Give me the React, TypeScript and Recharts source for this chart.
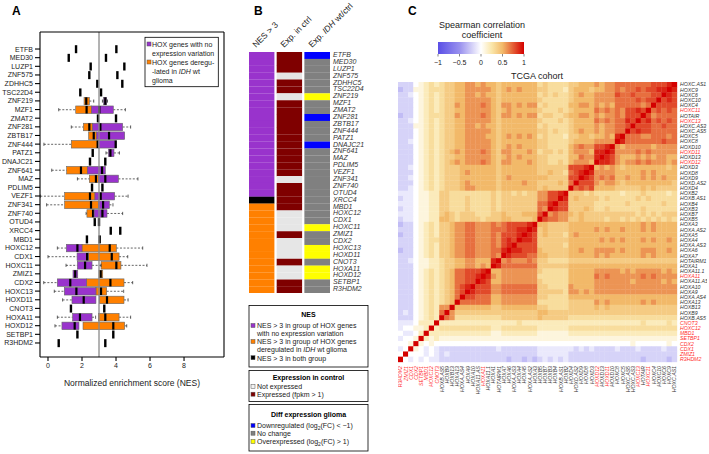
import {
  Bar,
  BarChart,
  Cell,
  ComposedChart,
  ReferenceLine,
  Scatter,
  ScatterChart,
  XAxis,
  YAxis,
} from 'recharts';

const FONT = '"Liberation Sans", Arial, Helvetica, sans-serif';
const PURPLE = '#9933cc';
const ORANGE = '#ff8000';

// ---- panel A / B : genes, top to bottom
const genes = [
  'ETFB', 'MED30', 'LUZP1', 'ZNF575', 'ZDHHC5', 'TSC22D4', 'ZNF219', 'MZF1', 'ZMAT2', 'ZNF281',
  'ZBTB17', 'ZNF444', 'PATZ1', 'DNAJC21', 'ZNF641', 'MAZ', 'PDLIM5', 'VEZF1', 'ZNF341', 'ZNF740',
  'OTUD4', 'XRCC4', 'MBD1', 'HOXC12', 'CDX1', 'HOXC11', 'ZMIZ1', 'CDX2', 'HOXC13', 'HOXD11',
  'CNOT3', 'HOXA11', 'HOXD12', 'SETBP1', 'R3HDM2',
];

// NES: [min, q1, median, q3, max]; a single number = one value only
const nesNoVariation: (number | number[])[] = [
  4.02, 3.41, 4.49, 4.08, 4.37, 3.12,
  [3.2, 3.27, 3.37, 3.45, 3.5],
  [2.57, 2.57, 3.02, 3.84, 4.55],
  4.0,
  [2.63, 2.63, 3.08, 4.39, 4.86],
  [2.86, 2.86, 3.59, 4.51, 4.51],
  [2.96, 2.96, 3.98, 4.02, 4.02],
  [3.41, 3.55, 3.67, 3.88, 4.2],
  3.37,
  [2.31, 2.31, 3.18, 3.37, 3.37],
  [2.96, 2.96, 3.37, 4.14, 5.29],
  3.2,
  [2.76, 2.76, 3.1, 3.92, 4.71],
  [2.96, 2.96, 3.24, 3.61, 3.82],
  [2.71, 2.71, 3.2, 3.47, 4.39],
  3.0, 4.25, 2.29,
  [0.55, 1.08, 1.73, 2.0, 2.0],
  [0.0, 1.71, 2.3, 2.37, 2.37],
  [1.06, 1.73, 2.18, 2.59, 3.12],
  [1.47, 1.47, 1.6, 1.75, 1.75],
  [-0.25, 0.55, 1.31, 2.27, 2.27],
  [0.37, 0.96, 1.67, 2.82, 2.82],
  [0.86, 1.41, 2.1, 2.82, 2.82],
  1.35,
  [0.55, 1.45, 1.88, 2.59, 2.8],
  [0.41, 0.82, 1.57, 1.82, 1.82],
  1.73, 0.63,
];

const nesDeregulated: (number | number[])[] = [
  1.65, 1.22, 2.51, 2.43, 2.9, 1.9,
  [2.12, 2.12, 2.25, 2.43, 2.69],
  [0.63, 1.63, 2.27, 2.57, 2.57],
  2.94,
  [1.37, 2.08, 2.43, 2.63, 2.63],
  [2.39, 2.39, 2.69, 2.86, 2.86],
  [-0.24, 1.37, 2.92, 2.96, 2.96],
  2.63,
  2.47,
  [0.22, 1.1, 1.94, 2.31, 2.31],
  [1.73, 2.43, 2.82, 2.96, 2.96],
  2.59,
  [-0.45, 0.98, 2.47, 2.76, 2.76],
  [-0.08, 0.98, 2.53, 2.96, 2.96],
  [2.24, 2.29, 2.65, 2.71, 2.71],
  2.75, 3.69, 3.04,
  [2.0, 2.0, 3.63, 4.02, 5.57],
  [2.37, 2.37, 3.75, 4.18, 4.69],
  [3.12, 3.12, 4.02, 4.29, 5.82],
  [3.0, 3.0, 3.1, 3.22, 3.22],
  [2.27, 2.27, 3.67, 4.47, 4.98],
  [2.82, 2.82, 3.12, 3.45, 4.45],
  [3.02, 3.02, 3.47, 4.47, 4.71],
  3.31,
  [2.96, 2.96, 3.37, 4.18, 4.86],
  [2.06, 2.06, 3.84, 4.51, 4.63],
  3.84, 3.37,
];

const nesTicks = [0, 2, 4, 6, 8];

// ---- panel B : P = no-variation group, B = both, O = deregulated group
const nesGroup = 'PPPPPPPPPPPPPPPPPPPPPBOOOOOOOOOOOOO'.split('');
// E = expressed (fpkm > 1), N = not expressed
const expInCtrl = 'EEENEENEEEEEEEEEEENEEEENNNENNNENNEE'.split('');
// D = down, N = no change, U = overexpressed
const diffExp = 'DNNNNNUNNDNNNDNNNNNNNNNNNUNNUUNUUNN'.split('');

// ---- panel C : genes in row order (top to bottom); columns are reversed
const heatGenes = [
  'HOXC.AS1', 'HOXC9', 'HOXC6', 'HOXC10', 'HOXC4', 'HOXC11', 'HOTAIR', 'HOXC13', 'HOXC.AS3', 'HOXC.AS5',
  'HOXC5', 'HOXC8', 'HOXD10', 'HOXD11', 'HOXD13', 'HOXD12', 'HOXD3', 'HOXD8', 'HOXD9', 'HOXD.AS2',
  'HOXD4', 'HOXB2', 'HOXB.AS1', 'HOXB4', 'HOXB3', 'HOXB7', 'HOXB5', 'HOXA3', 'HOXA.AS2', 'HOXA5',
  'HOXA4', 'HOXA.AS3', 'HOXA6', 'HOXA7', 'HOTAIRM1', 'HOXA1', 'HOXA11.1', 'HOXA11', 'HOXA11.AS', 'HOXA10',
  'HOXA9', 'HOXA.AS4', 'HOXA13', 'HOXB13', 'HOXB9', 'HOXB.AS5', 'CNOT3', 'HOXC12', 'MBD1', 'SETBP1',
  'CDX2', 'CDX1', 'ZMIZ1', 'R3HDM2',
];
const redGenes = ['HOXC11', 'HOXC13', 'HOXD11', 'HOXD12', 'HOXA11', 'CNOT3', 'HOXC12', 'MBD1', 'SETBP1', 'CDX2', 'CDX1', 'ZMIZ1', 'R3HDM2'];

// lower triangle of the Spearman matrix (row i, genes 0..i); a=-.3 b=-.2 c=-.1 0..9 = 0..0.9 X = 1
const corrLower = [
  'X',
  '9X',
  '89X',
  '898X',
  '8888X',
  '78787X',
  '777768X',
  '7878798X',
  '77877888X',
  '777778898X',
  '7677766777X',
  '77877777779X',
  '666656666656|X',
  '666667676666|9X',
  '556656565556|89X',
  '656667676656|899X',
  '545555555545|6565|X',
  '555565655555|6666|9X',
  '556565655655|7676|89X',
  '455555555545|6656|888X',
  '444454544444|5555|8787X',
  '323333433323|3333|43444|X',
  '333334343333|3434|44454|9X',
  '334333333433|3333|44444|88X',
  '333333433333|3433|45444|889X',
  '444343434444|4444|44545|6676X',
  '343434343434|4344|44544|66778X',
  '555565655555|5555|55555|444455|X',
  '555565655565|5656|55555|444454|9X',
  '555555555555|5555|55565|344454|89X',
  '565565655565|6565|55555|444444|899X',
  '555555555555|5555|55555|344444|8888X',
  '565566655565|6666|55655|444445|88899X',
  '555565655555|5656|55555|444455|778889X',
  '444444444444|4444|44444|333344|6766676X',
  '555555555555|5555|55555|444444|77777779X',
  '565666665656|6666|55555|333334|666666655|X',
  '666676766666|6767|55555|333333|666666656|9X',
  '565666665666|6666|55555|333334|666666655|89X',
  '666666666666|6666|55556|333344|777777766|888X',
  '666666666666|6666|56566|344444|777777766|8889X',
  '555555555555|5555|55555|333344|666666655|77788X',
  '555565655555|5656|44444|333333|666666655|777777X',
  '444444444444|4545|44444|333344|555555544|5555555|X',
  '444444444444|4444|44444|444455|444444444|4444444|6X',
  '333333333333|3333|33333|444445|444444433|3333333|67X',
  '232222322222|2222|22222|222222|222322222|2222222|222|X',
  '333333333333|3333|33333|222222|333333322|3333333|333|2X',
  '222222222222|2222|22222|111111|222222211|2222222|222|22X',
  '111111111111|1111|11111|111111|111111111|1111111|111|212X',
  '010000001000|0000|00000|000000|000000000|0000000|000|0101X',
  'bbcbbbbcbbbc|bbbb|cbcbc|cccccc|bbbbbbbcb|bbbbbbb|bbb|c0c01X',
  'bbbbbbbbbbbb|bbbb|bbbbb|cccccc|bbbbbbbbb|bbbbbbb|bcb|c0c000X',
  'babbbbabbbbb|bbbb|bbbbb|cbcbcb|ababbabbb|bbbbbbb|bbb|cc0c0c0X',
];

const levelOf = (ch: string) =>
  ch === 'X' ? 1 : ch === 'a' ? -0.3 : ch === 'b' ? -0.2 : ch === 'c' ? -0.1 : Number(ch) / 10;

const lower = corrLower.map((r) => r.replace(/\|/g, '').split('').map(levelOf));
const corr = (i: number, j: number) => (j <= i ? lower[i][j] : lower[j][i]);

const N = heatGenes.length;
const heatCells: { x: number; y: number; v: number }[] = [];
heatGenes.forEach((_, i) => {
  heatGenes.forEach((__, c) => {
    heatCells.push({ x: c + 0.5, y: i + 0.5, v: corr(i, N - 1 - c) });
  });
});
const heatTicks = heatGenes.map((_, i) => i + 0.5);

const stops: [number, number[]][] = [
  [-1, [90, 79, 230]],
  [-0.5, [152, 144, 238]],
  [0, [255, 255, 255]],
  [0.25, [250, 230, 170]],
  [0.5, [242, 185, 105]],
  [0.75, [228, 92, 52]],
  [1, [212, 0, 0]],
];
const colorAt = (v: number) => {
  for (let k = 1; k < stops.length; k++) {
    if (v <= stops[k][0]) {
      const [a, ca] = stops[k - 1];
      const [b, cb] = stops[k];
      const t = (v - a) / (b - a);
      const c = ca.map((x, n) => Math.round(x + (cb[n] - x) * t));
      return `rgb(${c[0]},${c[1]},${c[2]})`;
    }
  }
  return 'rgb(212,0,0)';
};

const toStats = (s: number | number[]) => (typeof s === 'number' ? [s, s, s, s, s] : s);
const boxRows = genes.map((g, i) => ({ gene: g, p: toStats(nesNoVariation[i]), o: toStats(nesDeregulated[i]) }));
const tableB = genes.map((g, i) => ({ gene: g, nes: nesGroup[i], ctrl: expInCtrl[i], diff: diffExp[i] }));

const nesColor: Record<string, string> = { P: PURPLE, B: '#000', O: ORANGE };
const ctrlColor: Record<string, string> = { E: '#7f0000', N: '#e6e6e6' };
const diffColor: Record<string, string> = { D: '#0000ff', N: '#808080', U: '#ffff00' };

const BoxShape = (props: any) => {
  const { x, y, width, height, payload } = props;
  const lo = Math.min(payload.p[0], payload.o[0]);
  const hi = Math.max(payload.p[4], payload.o[4]);
  const px = (v: number) => x + ((v - lo) / (hi - lo)) * width;
  const cy = y + height / 2;
  const h = 7.5;
  const one = (s: number[], fill: string, key: string) => {
    if (s[1] === s[3]) {
      return <rect key={key} x={px(s[2]) - 1.2} y={cy - 4} width={2.4} height={8} fill="#000" />;
    }
    return (
      <g key={key}>
        {s[0] < s[1] && (
          <>
            <line x1={px(s[0])} x2={px(s[1])} y1={cy} y2={cy} stroke="#222" strokeWidth={0.7} strokeDasharray="2 1.6" />
            <line x1={px(s[0])} x2={px(s[0])} y1={cy - 1.6} y2={cy + 1.6} stroke="#222" strokeWidth={0.7} />
          </>
        )}
        {s[4] > s[3] && (
          <>
            <line x1={px(s[3])} x2={px(s[4])} y1={cy} y2={cy} stroke="#222" strokeWidth={0.7} strokeDasharray="2 1.6" />
            <line x1={px(s[4])} x2={px(s[4])} y1={cy - 1.6} y2={cy + 1.6} stroke="#222" strokeWidth={0.7} />
          </>
        )}
        <rect x={px(s[1])} y={cy - h / 2} width={px(s[3]) - px(s[1])} height={h} fill={fill} stroke="#666" strokeWidth={0.6} />
        <rect x={px(s[2]) - 1.1} y={cy - h / 2} width={2.2} height={h} fill="#000" />
      </g>
    );
  };
  return (
    <g>
      {one(payload.o, ORANGE, 'o')}
      {one(payload.p, PURPLE, 'p')}
    </g>
  );
};

const GeneTickB = ({ x, y, payload }: any) => (
  <text x={x} y={y} dy={1.5} fontSize={7} fontStyle="italic" fill="#333" fontFamily={FONT}>
    {payload.value}
  </text>
);

const HeatTickRight = ({ x, y, payload }: any) => {
  const name = heatGenes[Math.floor(payload.value)];
  return (
    <text x={x} y={y} dy={1.8} fontSize={5.2} fontStyle="italic" fill={redGenes.includes(name) ? '#ff2e2e' : '#333'} fontFamily={FONT}>
      {name}
    </text>
  );
};

const HeatTickBottom = ({ x, y, payload }: any) => {
  const name = heatGenes[N - 1 - Math.floor(payload.value)];
  return (
    <text
      transform={`translate(${x},${y}) rotate(-90)`}
      dy={1.8}
      textAnchor="end"
      fontSize={5.2}
      fontStyle="italic"
      fill={redGenes.includes(name) ? '#ff2e2e' : '#333'}
      fontFamily={FONT}
    >
      {name}
    </text>
  );
};

const Sq = ({ x, y, c }: { x: number; y: number; c: string }) => (
  <rect x={x} y={y} width={4} height={4} fill={c} stroke="#555" strokeWidth={0.5} />
);

const App = () => {
  const t7 = { fontSize: 7, fill: '#1a1a1a', fontFamily: FONT };
  return (
    <div style={{ position: 'relative', width: 709, height: 454, background: '#fff', overflow: 'hidden', fontFamily: FONT }}>
      <style>{'body{margin:0}'}</style>

      {/* A */}
      <div style={{ position: 'absolute', left: 0, top: 0 }}>
        <ComposedChart
          width={228}
          height={395}
          layout="vertical"
          data={boxRows}
          margin={{ top: 31, right: 3, bottom: 0, left: 0 }}
          barCategoryGap={0}
        >
          <XAxis
            type="number"
            domain={[-0.47, 10.35]}
            ticks={nesTicks}
            allowDataOverflow
            tick={t7}
            tickSize={4}
            tickMargin={2}
            stroke="#000"
            strokeWidth={1.1}
            height={38}
            label={{ value: 'Normalized enrichment score (NES)', position: 'insideBottom', offset: 9, fontSize: 8.5, fill: '#1a1a1a' }}
          />
          <XAxis
            xAxisId="top"
            orientation="top"
            type="number"
            domain={[-0.47, 10.35]}
            allowDataOverflow
            tick={false}
            tickLine={false}
            height={1}
            stroke="#000"
            strokeWidth={1.1}
          />
          <YAxis
            type="category"
            dataKey="gene"
            width={40}
            tick={t7}
            tickSize={5}
            tickMargin={2}
            stroke="#000"
            strokeWidth={1.1}
            interval={0}
            padding={{ top: 12.7, bottom: 9.7 }}
          />
          <YAxis
            yAxisId="r"
            orientation="right"
            type="category"
            dataKey="gene"
            tick={false}
            tickLine={false}
            width={1}
            stroke="#000"
            strokeWidth={1.1}
          />
          <ReferenceLine x={3} stroke="#8a8a8a" strokeWidth={1.3} />
          <Bar
            dataKey={(d: any) => [Math.min(d.p[0], d.o[0]), Math.max(d.p[4], d.o[4])]}
            shape={BoxShape}
            isAnimationActive={false}
          />
        </ComposedChart>
      </div>

      {/* B */}
      <div style={{ position: 'absolute', left: 249, top: 52.3 }}>
        <BarChart width={119} height={241.2} layout="vertical" data={tableB} margin={{ top: 0, right: 0, bottom: 0, left: 0 }} barCategoryGap={0}>
          <XAxis type="number" hide domain={[0, 3.16]} />
          <YAxis type="category" dataKey="gene" orientation="right" width={38} axisLine={false} tickLine={false} tickSize={0} tickMargin={3} interval={0} tick={GeneTickB} />
          <Bar dataKey={() => 1} stackId="s" isAnimationActive={false}>
            {tableB.map((d, i) => (
              <Cell key={i} fill={nesColor[d.nes]} />
            ))}
          </Bar>
          <Bar dataKey={() => 0.08} stackId="s" fill="#fff" isAnimationActive={false} />
          <Bar dataKey={() => 1} stackId="s" isAnimationActive={false}>
            {tableB.map((d, i) => (
              <Cell key={i} fill={ctrlColor[d.ctrl]} />
            ))}
          </Bar>
          <Bar dataKey={() => 0.08} stackId="s" fill="#fff" isAnimationActive={false} />
          <Bar dataKey={() => 1} stackId="s" isAnimationActive={false}>
            {tableB.map((d, i) => (
              <Cell key={i} fill={diffColor[d.diff]} />
            ))}
          </Bar>
        </BarChart>
      </div>

      {/* C */}
      <div style={{ position: 'absolute', left: 397.7, top: 81.7 }}>
        <ScatterChart width={309} height={312} margin={{ top: 0, right: 0, bottom: 0, left: 0 }}>
          <XAxis
            type="number"
            dataKey="x"
            domain={[0, N]}
            ticks={heatTicks}
            interval={0}
            height={32}
            axisLine={false}
            tickLine={false}
            tickSize={0}
            tickMargin={4}
            tick={HeatTickBottom}
          />
          <YAxis
            type="number"
            dataKey="y"
            domain={[0, N]}
            reversed
            orientation="right"
            ticks={heatTicks}
            interval={0}
            width={30}
            axisLine={false}
            tickLine={false}
            tickSize={0}
            tickMargin={3}
            tick={HeatTickRight}
          />
          <Scatter
            data={heatCells}
            isAnimationActive={false}
            shape={(p: any) => (
              <rect x={p.cx - 2.75} y={p.cy - 2.76} width={5.5} height={5.52} fill={colorAt(p.payload.v)} />
            )}
          />
        </ScatterChart>
      </div>

      {/* annotations */}
      <svg width={709} height={454} style={{ position: 'absolute', left: 0, top: 0, pointerEvents: 'none' }} fontFamily={FONT}>
        <defs>
          <linearGradient id="cbar" x1="0" x2="1" y1="0" y2="0">
            {stops.map(([v, c]) => (
              <stop key={v} offset={`${((v + 1) / 2) * 100}%`} stopColor={`rgb(${c[0]},${c[1]},${c[2]})`} />
            ))}
          </linearGradient>
        </defs>

        <text x={12} y={15} fontSize={12} fontWeight="bold">A</text>
        <text x={254} y={15} fontSize={12} fontWeight="bold">B</text>
        <text x={408} y={15} fontSize={12} fontWeight="bold">C</text>

        {/* legend A */}
        <rect x={145} y={37.3} width={73.3} height={49.4} fill="#fff" stroke="#000" strokeWidth={0.8} />
        <Sq x={147} y={42} c={PURPLE} />
        <text x={152} y={46.5} fontSize={7} fill="#1a1a1a">HOX genes with no</text>
        <text x={152} y={55.5} fontSize={7} fill="#1a1a1a">expression variation</text>
        <Sq x={147} y={60} c={ORANGE} />
        <text x={152} y={64.5} fontSize={7} fill="#1a1a1a">HOX genes deregu-</text>
        <text x={152} y={73.5} fontSize={7} fill="#1a1a1a">
          -lated in <tspan fontStyle="italic">IDH</tspan> wt
        </text>
        <text x={152} y={82.5} fontSize={7} fill="#1a1a1a">glioma</text>

        {/* B headers */}
        <text transform="translate(256,48) rotate(-45)" fontSize={8.5} fill="#1a1a1a">NES &gt; 3</text>
        <text transform="translate(284,48) rotate(-45)" fontSize={8.5} fill="#1a1a1a">Exp. in ctrl</text>
        <text transform="translate(312,48) rotate(-45)" fontSize={8.5} fill="#1a1a1a">
          Exp. <tspan fontStyle="italic">IDH</tspan> wt/ctrl
        </text>

        {/* B legends */}
        <rect x={249} y={305.5} width={119} height={61.5} fill="#fff" stroke="#000" strokeWidth={0.8} />
        <text x={308.5} y={316.8} fontSize={7} fontWeight="bold" textAnchor="middle">NES</text>
        <Sq x={251} y={323.5} c={PURPLE} />
        <text x={257} y={328.3} fontSize={7} fill="#1a1a1a">NES &gt; 3 in group of HOX genes</text>
        <text x={257} y={335.8} fontSize={7} fill="#1a1a1a">with no expression variation</text>
        <Sq x={251} y={339.5} c={ORANGE} />
        <text x={257} y={344.3} fontSize={7} fill="#1a1a1a">NES &gt; 3 in group of HOX genes</text>
        <text x={257} y={351.8} fontSize={7} fill="#1a1a1a">
          deregulated in <tspan fontStyle="italic">IDH</tspan> wt glioma
        </text>
        <Sq x={251} y={355.7} c="#000" />
        <text x={257} y={360.5} fontSize={7} fill="#1a1a1a">NES &gt; 3 in both group</text>

        <rect x={249} y={370.5} width={119} height={31} fill="#fff" stroke="#000" strokeWidth={0.8} />
        <text x={308.5} y={380} fontSize={7} fontWeight="bold" textAnchor="middle">Expression in control</text>
        <Sq x={251} y={384.5} c="#f2f2f2" />
        <text x={257} y={389.3} fontSize={7} fill="#1a1a1a">Not expressed</text>
        <Sq x={251} y={392.2} c="#7f0000" />
        <text x={257} y={397} fontSize={7} fill="#1a1a1a">Expressed (fpkm &gt; 1)</text>

        <rect x={249} y={404.5} width={119} height={46.5} fill="#fff" stroke="#000" strokeWidth={0.8} />
        <text x={308.5} y={416.5} fontSize={7} fontWeight="bold" textAnchor="middle">Diff expression glioma</text>
        <Sq x={251} y={423.5} c="#0000ff" />
        <text x={257} y={428.3} fontSize={7} fill="#1a1a1a">
          Downregulated (log<tspan fontSize={5} dy={1.5}>2</tspan>
          <tspan dy={-1.5}>(FC) &lt; −1)</tspan>
        </text>
        <Sq x={251} y={431.2} c="#808080" />
        <text x={257} y={436} fontSize={7} fill="#1a1a1a">No change</text>
        <Sq x={251} y={439.5} c="#ffff00" />
        <text x={257} y={444.3} fontSize={7} fill="#1a1a1a">
          Overexpressed (log<tspan fontSize={5} dy={1.5}>2</tspan>
          <tspan dy={-1.5}>(FC) &gt; 1)</tspan>
        </text>

        {/* C colour bar */}
        <text x={482} y={27.5} fontSize={9} textAnchor="middle" fill="#1a1a1a">Spearman correlation</text>
        <text x={482} y={37.5} fontSize={9} textAnchor="middle" fill="#1a1a1a">coefficient</text>
        <rect x={438} y={42} width={86} height={12} fill="url(#cbar)" />
        {[-1, -0.5, 0, 0.5, 1].map((v) => (
          <g key={v}>
            <line x1={438 + ((v + 1) / 2) * 86} x2={438 + ((v + 1) / 2) * 86} y1={54} y2={56.5} stroke="#333" strokeWidth={0.6} />
            <text x={438 + ((v + 1) / 2) * 86} y={64.5} fontSize={7} textAnchor="middle" fill="#1a1a1a">
              {v < 0 ? `−${Math.abs(v)}` : v}
            </text>
          </g>
        ))}
        <text x={537} y={79} fontSize={9} textAnchor="middle" fill="#1a1a1a">TCGA cohort</text>
      </svg>
    </div>
  );
};

export default App;
